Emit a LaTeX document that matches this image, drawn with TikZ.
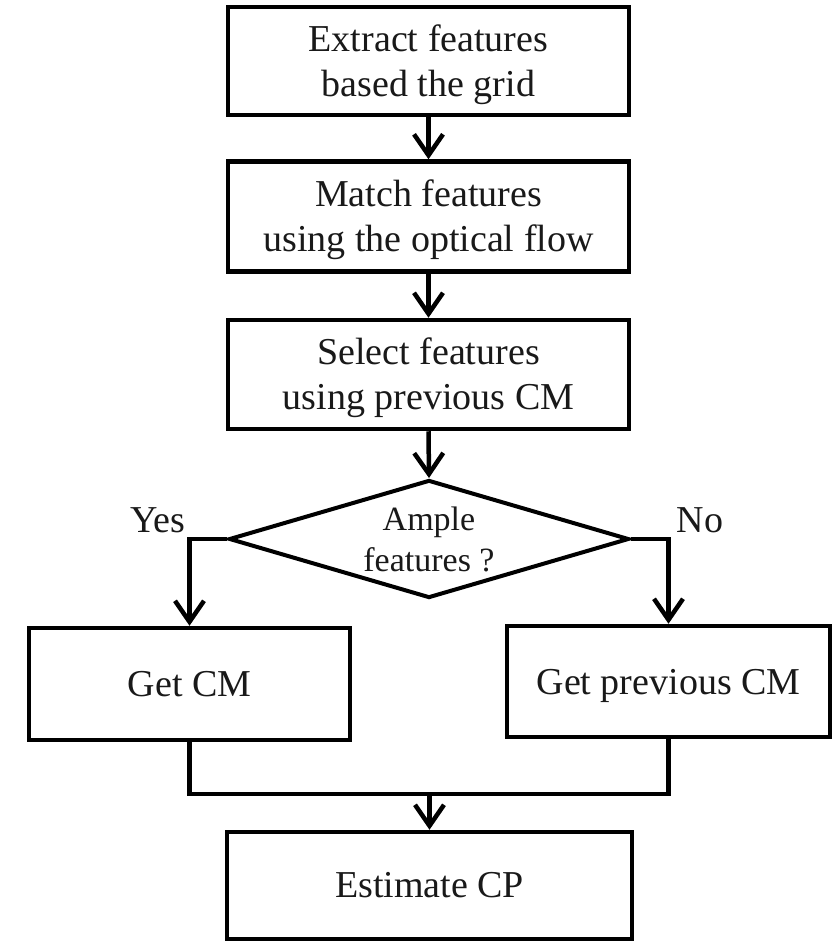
\documentclass[tikz,border=0pt]{standalone}
\usepackage{fontspec}
\setmainfont{Liberation Serif}
\usetikzlibrary{shapes.geometric,arrows.meta}
\newcommand{\toprule}{\rule{0pt}{34pt}}
\tikzset{
  box/.style={draw=black, line width=4.5pt, rectangle, align=center, inner sep=0pt,
    font=\fontsize{38}{45}\selectfont, text=black!90},
  decision/.style={draw=black, line width=4pt, diamond, align=center, inner sep=0pt,
    font=\fontsize{34}{41}\selectfont, text=black!90},
  lbl/.style={font=\fontsize{38}{45}\selectfont, text=black!90, inner sep=0pt},
  conn/.style={draw=black, line width=4.5pt},
  arr/.style={conn, -{Straight Barb[length=21pt,width=29pt,line width=4.5pt]}},
}
\begin{document}
\begin{tikzpicture}[x=1pt,y=-1pt]
\useasboundingbox (0,0) rectangle (834,944);
\fill[white] (0,0) rectangle (834,944);

\node[box, minimum width=401pt, minimum height=108pt] (b1) at (428.5,61) {\toprule Extract features\\based the grid};
\node[box, minimum width=401pt, minimum height=110pt] (b2) at (428.5,216.5) {\toprule Match features\\using the optical flow};
\node[box, minimum width=401pt, minimum height=109pt] (b3) at (428.5,374.5) {\toprule Select features\\using previous CM};
\node[decision, minimum width=400pt, minimum height=118pt, aspect=3.4] (d) at (429,539) {Ample\\features ?};
\node[box, minimum width=321pt, minimum height=112pt] (l) at (189.5,684) {Get CM};
\node[box, minimum width=323pt, minimum height=111pt, text depth=0pt] (r) at (668.5,681.5) {Get previous CM};
\node[box, minimum width=405pt, minimum height=107pt] (b4) at (429.5,885.5) {Estimate CP};

\node[lbl] (yes) at (158,520) {Yes};
\node[lbl] (no) at (700,520) {No};

\coordinate (j) at (429.5,794);

\draw[arr] (b1.south) -- (b2.north);
\draw[arr] (b2.south) -- (b3.north);
\draw[arr] (b3.south) -- (d.north);
\draw[arr] (d.west) -| (l.north);
\draw[arr] (d.east) -| (r.north);
\draw[conn, line join=miter] (l.south) -- (l.south |- j) -- (r.south |- j) -- (r.south);
\draw[arr] (j) -- (b4.north);
\end{tikzpicture}
\end{document}
